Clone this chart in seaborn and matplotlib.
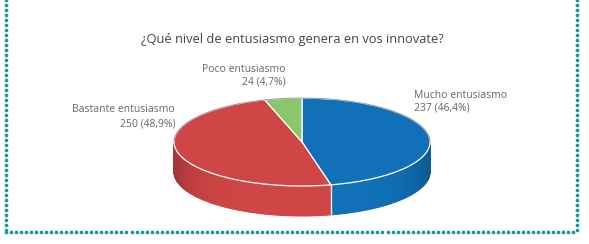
import numpy as np
import matplotlib
matplotlib.use("Agg")
import matplotlib.pyplot as plt
import seaborn as sns

categories = ["Mucho entusiasmo", "Bastante entusiasmo", "Poco entusiasmo"]
counts = [237, 250, 24]
shares = ["46,4%", "48,9%", "4,7%"]
colors = ["#1170B8", "#D04545", "#8CC66A"]
title = "¿Qué nivel de entusiasmo genera en vos innovate?"

W, H = 589, 244
cx, cy = 302, 142      # pie centre, px
rx, ry = 128, 44       # top ellipse radii, px
depth = 30 / ry

sns.set_theme(style="white")
plt.rcParams["font.family"] = ["Open Sans", "DejaVu Sans"]

fig = plt.figure(figsize=(W / 100, H / 100), dpi=100)
ax = fig.add_axes([0, 0, 1, 1])

# side wall of the cylinder, only the front half is visible
# gouraud mesh so it can darken smoothly towards the left and right ends
fractions = np.array(counts) / sum(counts)
edges = np.concatenate([[0], np.cumsum(fractions)]) * 2 * np.pi
for i, col in enumerate(colors):
    t = np.linspace(edges[i], edges[i + 1], 120)
    t = t[np.cos(t) <= 0.0]
    if len(t) < 2:
        continue
    xx = np.vstack([np.sin(t), np.sin(t)])
    yy = np.vstack([np.cos(t), np.cos(t) - depth])
    shade = 1 - 0.22 * np.abs(np.sin(t)) ** 6
    rgb = np.array(matplotlib.colors.to_rgb(col))[None, None, :] * shade[None, :, None]
    ax.pcolormesh(xx, yy, np.repeat(rgb, 2, axis=0), shading="gouraud", zorder=1)

# top face
ax.pie(counts, colors=colors, startangle=90, counterclock=False, radius=1,
       wedgeprops=dict(edgecolor="white", linewidth=0.9, zorder=2))
ax.set_aspect("auto")
ax.set_xlim(-cx / rx, (W - cx) / rx)
ax.set_ylim((cy - H) / ry, cy / ry)
ax.axis("off")

# white seam down the wall at the blue/red boundary
sx, sy = np.sin(edges[1]), np.cos(edges[1])
ax.plot([sx, sx], [sy, sy - depth], color="#f4e4e4", lw=1.0, zorder=3)
# thin dark line along the back of the top face
t = np.linspace(-np.pi / 2, np.pi / 2, 200)
ax.plot(np.sin(t), np.cos(t), color="#3f4a55", lw=0.6, alpha=0.6, zorder=3)

# dotted teal frame, open at the top
over = fig.add_axes([0, 0, 1, 1], facecolor="none")
over.set_xlim(0, W)
over.set_ylim(H, 0)
over.axis("off")
side = np.arange(0, 232, 5)
bottom = np.arange(6, 578, 5.02)
over.scatter([6] * len(side), side, s=7, color="#17999A", lw=0)
over.scatter([577] * len(side), side, s=7, color="#17999A", lw=0)
over.scatter(bottom, [232] * len(bottom), s=7, color="#17999A", lw=0)

over.text(292.5, 39, title, ha="center", va="center", fontsize=9.3, color="#444444")
tc = "#666666"
fs = 7.5
over.text(414, 95, categories[0], ha="left", va="center", fontsize=fs, color=tc)
over.text(414, 108, f"{counts[0]} ({shares[0]})", ha="left", va="center", fontsize=fs, color=tc)
over.text(175, 110, categories[1], ha="right", va="center", fontsize=fs, color=tc)
over.text(175, 124, f"{counts[1]} ({shares[1]})", ha="right", va="center", fontsize=fs, color=tc)
over.text(286, 69, categories[2], ha="right", va="center", fontsize=fs, color=tc)
over.text(286, 82, f"{counts[2]} ({shares[2]})", ha="right", va="center", fontsize=fs, color=tc)

fig.savefig("out.png", dpi=100)
